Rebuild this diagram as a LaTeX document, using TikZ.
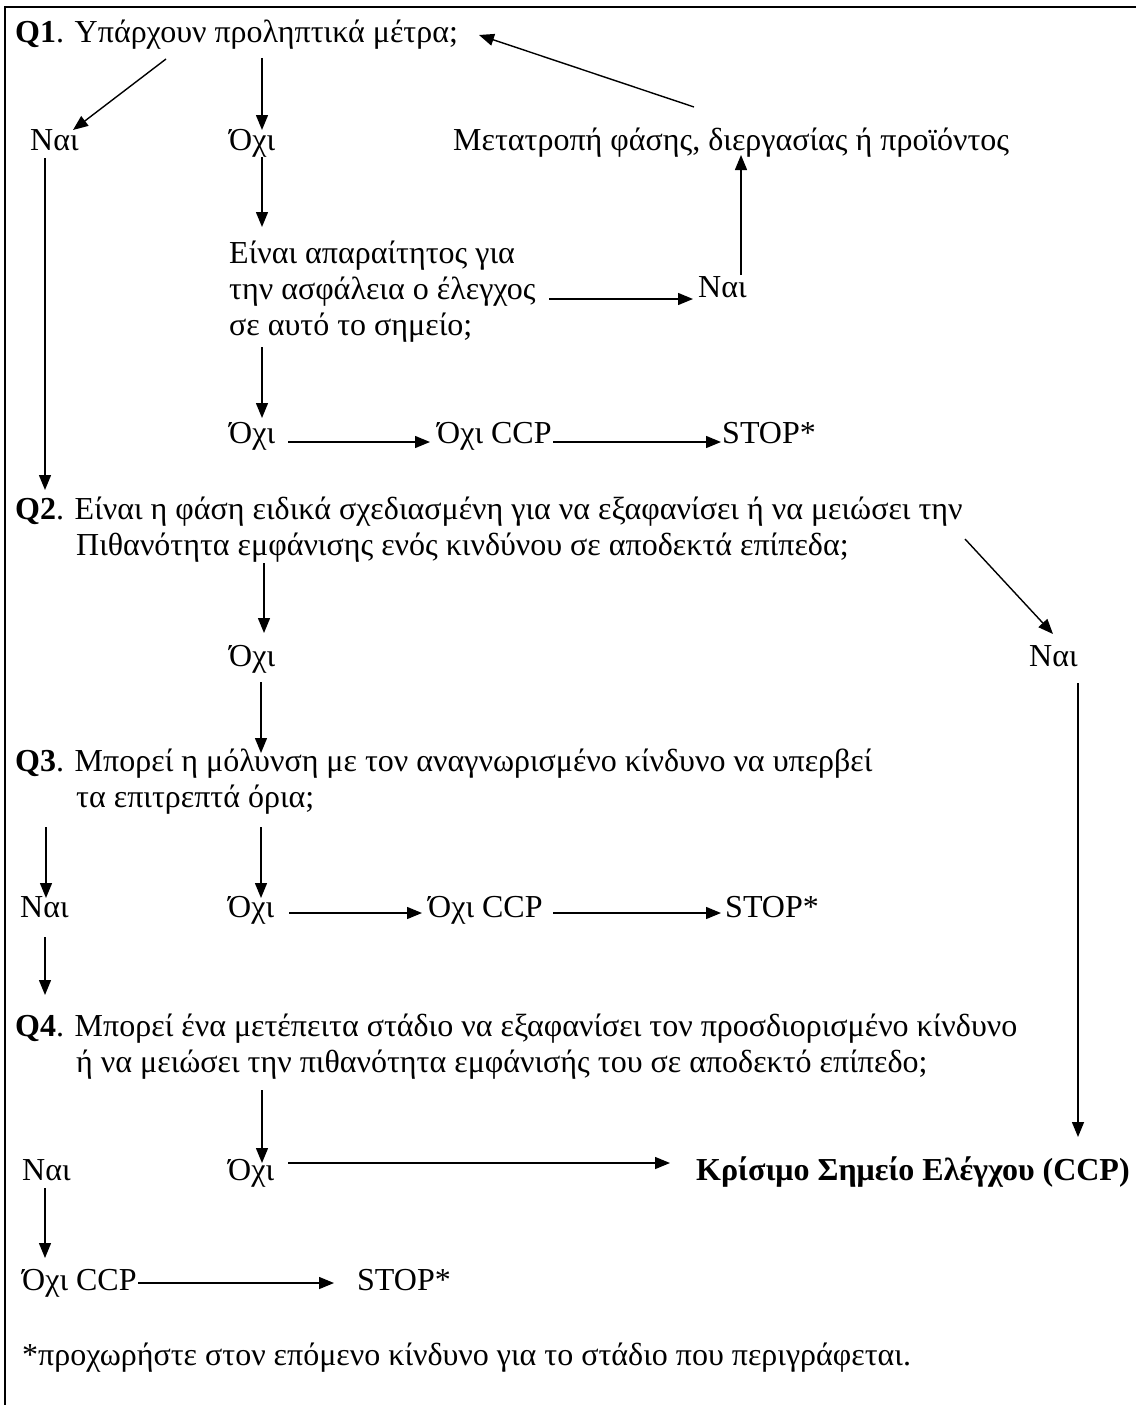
\documentclass[tikz,border=0pt]{standalone}
\usepackage{fontspec}
\setmainfont{Liberation Serif}
\usetikzlibrary{arrows.meta}

\begin{document}
\begin{tikzpicture}
    [x=1pt,y=-1pt,
     every node/.style={inner sep=0pt, anchor=base west, align=left,
       font=\fontsize{32}{36}\selectfont},
     arr/.style={line width=1.4pt, -{Triangle[length=15pt,width=12pt]}}]
  \useasboundingbox (0,0) rectangle (1136,1405);
  \draw[line width=2pt] (1136,7) -- (5,7) -- (5,1405);

  \node (q1) at (15,43) {\textbf{Q1}. Υπάρχουν προληπτικά μέτρα;};
  \node (naiA) at (30,150) {Ναι};
  \node (oxiA) at (229,150) {Όχι};
  \node (metatropi) at (453,150) {Μετατροπή φάσης, διεργασίας ή προϊόντος};

  % multi-line nodes sit on the baseline of their last line
  \node (einai) at (229,335) {Είναι απαραίτητος για\\την ασφάλεια ο έλεγχος\\σε αυτό το σημείο;};
  \node (naiM) at (698,297) {Ναι};

  \node (oxiB) at (229,443) {Όχι};
  \node (ccpB) at (437,443) {Όχι CCP};
  \node (stopB) at (722,443) {STOP*};

  \node (q2) at (15,555) {\textbf{Q2}. Είναι η φάση ειδικά σχεδιασμένη για να εξαφανίσει ή να μειώσει την\\\hspace*{61pt}Πιθανότητα εμφάνισης ενός κινδύνου σε αποδεκτά επίπεδα;};
  \node (oxiC) at (229,666) {Όχι};
  \node (naiC) at (1029,666) {Ναι};

  \node (q3) at (15,807) {\textbf{Q3}. Μπορεί η μόλυνση με τον αναγνωρισμένο κίνδυνο να υπερβεί\\\hspace*{61pt}τα επιτρεπτά όρια;};
  \node (naiD) at (20,917) {Ναι};
  \node (oxiD) at (228,917) {Όχι};
  \node (ccpD) at (428,917) {Όχι CCP};
  \node (stopD) at (725,917) {STOP*};

  \node (q4) at (15,1072) {\textbf{Q4}. Μπορεί ένα μετέπειτα στάδιο να εξαφανίσει τον προσδιορισμένο κίνδυνο\\\hspace*{61pt}ή να μειώσει την πιθανότητα εμφάνισής του σε αποδεκτό επίπεδο;};
  \node (naiE) at (22,1180) {Ναι};
  \node (oxiE) at (228,1180) {Όχι};
  \node (ccpE) at (696,1180) {\textbf{Κρίσιμο Σημείο Ελέγχου (CCP)}};

  \node (ccpF) at (22,1290) {Όχι CCP};
  \node (stopF) at (357,1290) {STOP*};
  \node (foot) at (22,1365) {*προχωρήστε στον επόμενο κίνδυνο για το στάδιο που περιγράφεται.};

  \foreach \from/\fs/\to/\ts in {
      q1/{151,16}/naiA/{43,-20}, q1/{247,15}/oxiA/{33,-20},
      metatropi/{241,-43}/q1/{464,-8}, oxiA/{33,7}/einai/{33,-108},
      naiA/{15,8}/q2/{30,-65}, einai/{320,-36}/naiM/{-5,2},
      naiM/{43,-22}/metatropi/{288,5}, einai/{33,12}/oxiB/{33,-25},
      oxiB/{59,-1}/ccpB/{-7,-1}, ccpB/{116,-1}/stopB/{-1,-1},
      q2/{249,8}/oxiC/{35,-33}, q2/{950,-16}/naiC/{24,-32},
      naiC/{49,17}/ccpE/{382,-43}, oxiC/{32,16}/q3/{246,-54},
      q3/{31,20}/naiD/{26,-19}, q3/{246,20}/oxiD/{33,-19},
      oxiD/{61,-4}/ccpD/{-6,-4}, ccpD/{125,-4}/stopD/{-4,-4},
      naiD/{25,20}/q4/{30,-77}, q4/{247,18}/oxiE/{34,-17},
      oxiE/{60,-17}/ccpE/{-26,-17}, naiE/{23,8}/ccpF/{23,-32},
      ccpF/{116,-7}/stopF/{-23,-7}}
    \draw[arr] ([shift={(\fs)}]\from.base west) -- ([shift={(\ts)}]\to.base west);
\end{tikzpicture}
\end{document}
